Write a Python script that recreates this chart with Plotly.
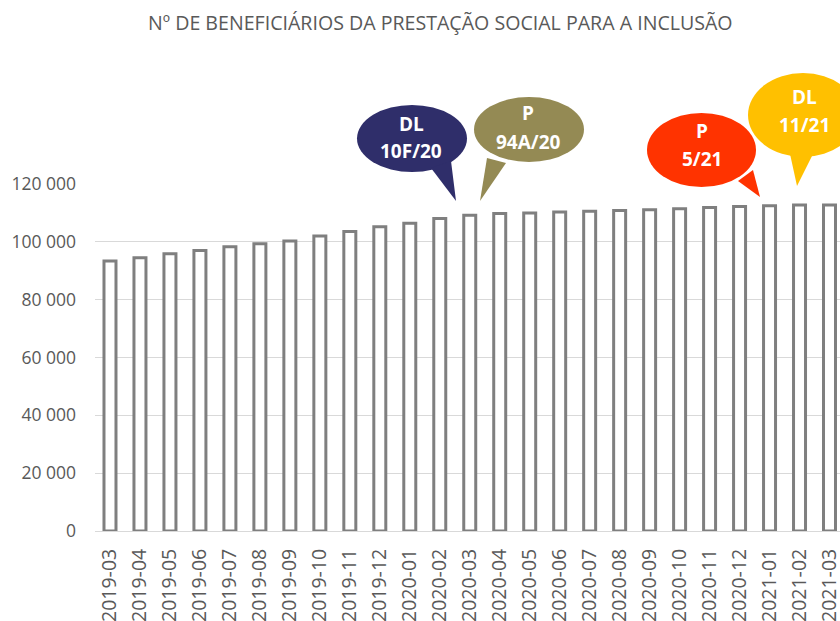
import plotly.graph_objects as go

months = ["2019-03", "2019-04", "2019-05", "2019-06", "2019-07", "2019-08", "2019-09",
          "2019-10", "2019-11", "2019-12", "2020-01", "2020-02", "2020-03", "2020-04",
          "2020-05", "2020-06", "2020-07", "2020-08", "2020-09", "2020-10", "2020-11",
          "2020-12", "2021-01", "2021-02", "2021-03"]
beneficiarios = [93400, 94500, 95900, 97000, 98300, 99300, 100300, 102000, 103600,
                 105200, 106400, 108100, 109200, 109800, 110000, 110300, 110600,
                 110800, 111100, 111400, 111900, 112200, 112500, 112700, 112700]
y_ticks = [0, 20000, 40000, 60000, 80000, 100000, 120000]
y_tick_labels = ["0", "20 000", "40 000", "60 000", "80 000", "100 000", "120 000"]

title_text = "Nº DE BENEFICIÁRIOS DA PRESTAÇÃO SOCIAL PARA A INCLUSÃO"

# speech bubbles: (line1, line2, colour)
bubble_labels = [("DL", "10F/20", "#2f2e6a"),
                 ("P", "94A/20", "#948a54"),
                 ("P", "5/21", "#ff3300"),
                 ("DL", "11/21", "#ffc000")]

W, H = 840, 621
L, R, T, B = 95, 0, 184, 90
PW, PH = W - L - R, H - T - B


def px(x):
    return (x - L) / PW


def py(y):
    return (H - B - y) / PH


# bubble geometry in pixels: ellipse box, tail triangle, text centres
bubble_geom = [
    dict(box=(357, 105, 467, 172), tail=[(431, 168), (451, 161), (456, 201)],
         t1=(411, 124), t2=(411, 151)),
    dict(box=(474, 97, 584, 162), tail=[(487, 158), (506, 163), (480, 201)],
         t1=(528, 113), t2=(528, 142)),
    dict(box=(647, 113, 756, 187), tail=[(738, 181), (753, 170), (760, 197)],
         t1=(702, 131), t2=(702, 159)),
    dict(box=(748, 73, 858, 157), tail=[(790, 154), (813, 154), (797, 186)],
         t1=(804, 97), t2=(804, 125)),
]

fig = go.Figure()
fig.add_trace(go.Bar(
    x=months, y=beneficiarios,
    marker=dict(color="white", line=dict(color="#7f7f7f", width=3)),
    hoverinfo="skip",
))

shapes = []
annotations = []
for (l1, l2, col), g in zip(bubble_labels, bubble_geom):
    x0, y0, x1, y1 = g["box"]
    shapes.append(dict(type="circle", xref="paper", yref="paper",
                       x0=px(x0), x1=px(x1), y0=py(y1), y1=py(y0),
                       fillcolor=col, line=dict(width=0), layer="above"))
    pts = g["tail"]
    path = "M {} {} L {} {} L {} {} Z".format(
        px(pts[0][0]), py(pts[0][1]), px(pts[1][0]), py(pts[1][1]),
        px(pts[2][0]), py(pts[2][1]))
    shapes.append(dict(type="path", xref="paper", yref="paper", path=path,
                       fillcolor=col, line=dict(width=0), layer="above"))
    for txt, (tx, ty) in ((l1, g["t1"]), (l2, g["t2"])):
        annotations.append(dict(text="<b>" + txt + "</b>", xref="paper", yref="paper",
                                x=px(tx), y=py(ty), xanchor="center", yanchor="middle",
                                showarrow=False,
                                font=dict(family="Open Sans", size=19, color="white")))

annotations.append(dict(text=title_text, xref="paper", yref="paper",
                        x=px(440), y=py(22), xanchor="center", yanchor="middle",
                        showarrow=False,
                        font=dict(family="Open Sans", size=19.6, color="#595959")))

fig.update_layout(
    width=W, height=H,
    margin=dict(l=L, r=R, t=T, b=B, autoexpand=False),
    paper_bgcolor="white", plot_bgcolor="white",
    showlegend=False,
    bargap=0.6,
    shapes=shapes,
    annotations=annotations,
    xaxis=dict(type="category", range=[-0.5, 24.35], tickangle=-90,
               showgrid=False, showline=True, linecolor="#d9d9d9", linewidth=1,
               ticks="", ticklabelstandoff=9, automargin=False,
               tickfont=dict(family="Open Sans", size=19.5, color="#595959")),
    yaxis=dict(range=[0, 120000], tickvals=y_ticks, ticktext=y_tick_labels,
               showgrid=True, gridcolor="#d9d9d9", gridwidth=1,
               zeroline=False, showline=False, ticks="", automargin=False,
               ticklabelstandoff=18,
               tickfont=dict(family="Open Sans", size=17.5, color="#595959")),
)

fig.write_html("out.html",
               config={"displayModeBar": False},
               post_script="document.body.style.margin='0';document.body.style.overflow='hidden';")
